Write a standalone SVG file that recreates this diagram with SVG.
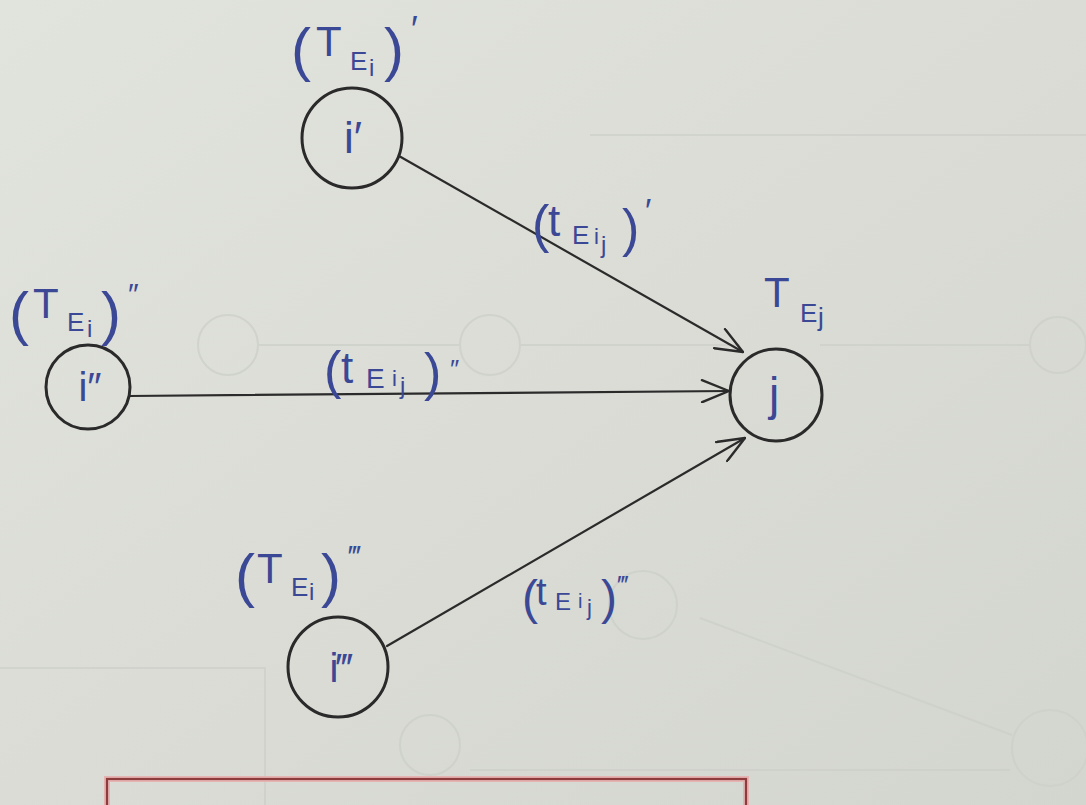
<svg xmlns="http://www.w3.org/2000/svg" width="1086" height="805" viewBox="0 0 1086 805">
  <defs>
    <linearGradient id="paper" x1="0" y1="0" x2="1" y2="1">
      <stop offset="0" stop-color="#e1e3dd"/>
      <stop offset="0.5" stop-color="#dadcd5"/>
      <stop offset="1" stop-color="#d3d5cf"/>
    </linearGradient>
    <marker id="arrow" viewBox="0 0 30 24" refX="29" refY="12" markerWidth="30" markerHeight="24" markerUnits="userSpaceOnUse" orient="auto">
      <path d="M2,1 L29,12 L2,23" fill="none" stroke="#2b2b2b" stroke-width="2.4" stroke-linecap="round" stroke-linejoin="round"/>
    </marker>
    <style>
      .node { fill: none; stroke: #2a2a2a; stroke-width: 3; }
      .edge { fill: none; stroke: #2b2b2b; stroke-width: 2.2; stroke-linecap: round; }
      .nlab { font-family: "Liberation Sans", "DejaVu Sans", sans-serif; fill: #3b4896; text-anchor: middle; }
      .lab { font-family: "Liberation Sans", "DejaVu Sans", sans-serif; fill: #3b4896; }
      .bleed { fill: none; stroke: #cdcfc9; stroke-width: 2; }
    </style>
  </defs>

  <rect x="0" y="0" width="1086" height="805" fill="url(#paper)"/>

  <g id="paper-bleed" opacity="0.75">
    <circle class="bleed" cx="228" cy="345" r="30"/>
    <circle class="bleed" cx="490" cy="345" r="30"/>
    <circle class="bleed" cx="1058" cy="345" r="28"/>
    <line class="bleed" x1="258" y1="345" x2="460" y2="345"/>
    <line class="bleed" x1="520" y1="345" x2="740" y2="345"/>
    <line class="bleed" x1="820" y1="345" x2="1030" y2="345"/>
    <line class="bleed" x1="590" y1="135" x2="1086" y2="135"/>
    <circle class="bleed" cx="643" cy="605" r="34"/>
    <circle class="bleed" cx="1050" cy="748" r="38"/>
    <line class="bleed" x1="1012" y1="735" x2="700" y2="618"/>
    <circle class="bleed" cx="430" cy="745" r="30"/>
    <line class="bleed" x1="470" y1="770" x2="1010" y2="770"/>
    <path class="bleed" d="M0,668 L265,668 L265,805"/>
  </g>

  <g id="connectors">
    <line class="edge" x1="399" y1="156" x2="743" y2="352" marker-end="url(#arrow)"/>
    <line class="edge" x1="129" y1="396" x2="729" y2="391" marker-end="url(#arrow)"/>
    <line class="edge" x1="387" y1="646" x2="745" y2="438" marker-end="url(#arrow)"/>
  </g>

  <g id="node-i1">
    <circle class="node" cx="352" cy="138" r="50"/>
    <text class="nlab" x="353" y="153" font-size="44">i′</text>
  </g>
  <g id="node-i2">
    <circle class="node" cx="88" cy="387" r="42"/>
    <text class="nlab" x="90" y="401" font-size="40">i″</text>
  </g>
  <g id="node-i3">
    <circle class="node" cx="338" cy="667" r="50"/>
    <text class="nlab" x="341" y="682" font-size="40">i‴</text>
  </g>
  <g id="node-j">
    <circle class="node" cx="776" cy="395" r="46"/>
    <text class="nlab" x="774" y="410" font-size="46">j</text>
  </g>

  <g id="labels">
    <text class="lab"><tspan x="291" y="70" font-size="60">(</tspan><tspan x="316" y="56" font-size="42">T</tspan><tspan x="350" y="70" font-size="26">E</tspan><tspan x="369" y="76" font-size="24">i</tspan><tspan x="384" y="70" font-size="60">)</tspan><tspan x="411" y="42" font-size="36">′</tspan></text>

    <text class="lab"><tspan x="9" y="334" font-size="60">(</tspan><tspan x="33" y="318" font-size="42">T</tspan><tspan x="67" y="331" font-size="26">E</tspan><tspan x="87" y="337" font-size="24">i</tspan><tspan x="101" y="334" font-size="60">)</tspan><tspan x="128" y="304" font-size="30">″</tspan></text>

    <text class="lab"><tspan x="764" y="307" font-size="42">T</tspan><tspan x="800" y="322" font-size="26">E</tspan><tspan x="818" y="326" font-size="26">j</tspan></text>

    <text class="lab"><tspan x="235" y="596" font-size="60">(</tspan><tspan x="257" y="583" font-size="42">T</tspan><tspan x="291" y="596" font-size="26">E</tspan><tspan x="309" y="600" font-size="24">i</tspan><tspan x="321" y="596" font-size="60">)</tspan><tspan x="350" y="566" font-size="30">‴</tspan></text>

    <text class="lab"><tspan x="532" y="242" font-size="52">(</tspan><tspan x="548" y="236" font-size="44">t</tspan><tspan x="572" y="244" font-size="26">E</tspan><tspan x="594" y="244" font-size="22">i</tspan><tspan x="601" y="253" font-size="24">j</tspan><tspan x="622" y="246" font-size="52">)</tspan><tspan x="645" y="222" font-size="34">′</tspan></text>

    <text class="lab"><tspan x="324" y="388" font-size="52">(</tspan><tspan x="341" y="383" font-size="44">t</tspan><tspan x="366" y="388" font-size="28">E</tspan><tspan x="392" y="386" font-size="22">i</tspan><tspan x="400" y="394" font-size="24">j</tspan><tspan x="424" y="390" font-size="52">)</tspan><tspan x="450" y="378" font-size="26">″</tspan></text>

    <text class="lab"><tspan x="522" y="614" font-size="48">(</tspan><tspan x="536" y="605" font-size="38">t</tspan><tspan x="555" y="610" font-size="24">E</tspan><tspan x="578" y="608" font-size="20">i</tspan><tspan x="587" y="615" font-size="22">j</tspan><tspan x="601" y="614" font-size="48">)</tspan><tspan x="619" y="594" font-size="26">‴</tspan></text>
  </g>

  <g id="red-box">
    <rect x="107" y="779" width="639" height="40" fill="none" stroke="#e6b3b3" stroke-width="6"/>
    <rect x="107" y="779" width="639" height="40" fill="none" stroke="#8e3b3b" stroke-width="2.2"/>
  </g>
</svg>
